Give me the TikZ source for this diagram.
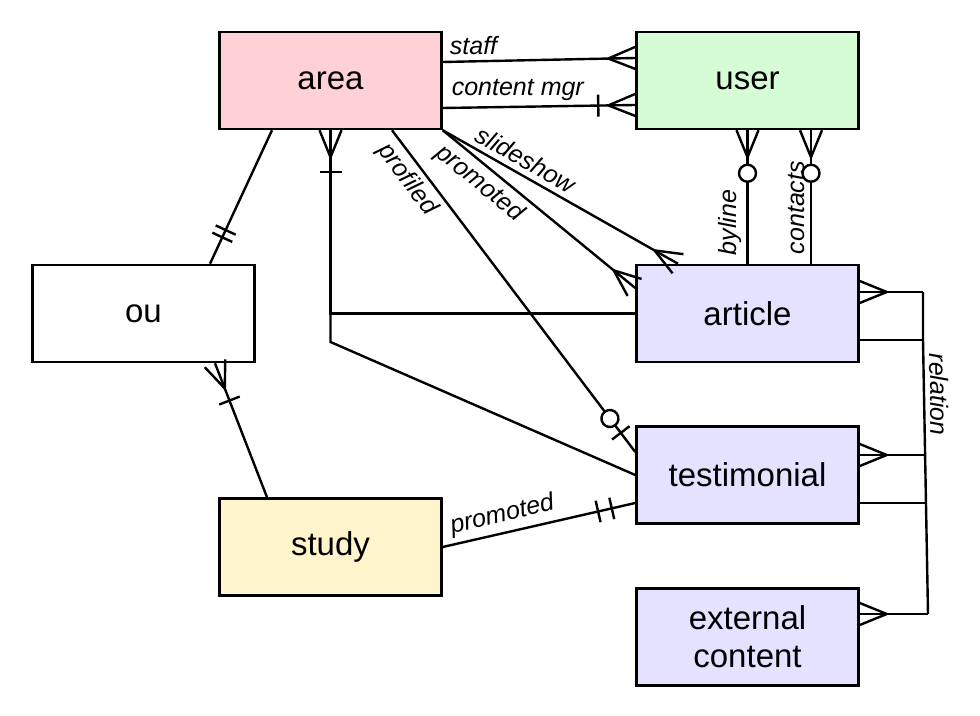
\documentclass[tikz,border=0pt]{standalone}
\usepackage{fontspec}
\setmainfont{Liberation Sans}
\usetikzlibrary{decorations.markings}

\definecolor{areapink}{RGB}{255,209,214}
\definecolor{usergreen}{RGB}{214,252,214}
\definecolor{contentblue}{RGB}{228,226,255}
\definecolor{studyyellow}{RGB}{255,244,204}

\tikzset{
  entity/.style={draw, line width=1.25pt, minimum width=111pt, minimum height=48.5pt,
    inner sep=0pt, align=center, font=\fontsize{16.5}{19}\selectfont},
  rel/.style={line width=1.2pt},
  lbl/.style={font=\itshape\fontsize{12.5}{14}\selectfont, inner sep=2.5pt},
  many end/.style={postaction={decorate,decoration={markings,mark=at position 1 with
    {\draw[line width=1.2pt] (-13.5pt,0) -- (0,5.5pt) (-13.5pt,0) -- (0,-5.5pt);}}}},
  bar end/.style={postaction={decorate,decoration={markings,mark=at position 1 with
    {\draw[line width=1.2pt] (-#1,-5.5pt) -- (-#1,5.5pt);}}}},
  zero end/.style={postaction={decorate,decoration={markings,mark=at position 1 with
    {\draw[line width=1.2pt,fill=white] (-#1,0) circle (4.25pt);}}}},
}

\begin{document}
\begin{tikzpicture}[x=0.5pt, y=-0.5pt]
\useasboundingbox (0,0) rectangle (980,716);

% entities
\node[entity, fill=areapink] (area) at (330.5,80.5) {area};
\node[entity, fill=usergreen] (user) at (747.5,80.5) {user};
\node[entity] (ou) at (143.5,313.5) {ou};
\node[entity, fill=contentblue] (article) at (747.5,313.5) {article};
\node[entity, fill=contentblue] (testimonial) at (747.5,475) {testimonial};
\node[entity, fill=studyyellow] (study) at (330.5,547) {study};
\node[entity, fill=contentblue] (external) at (747.5,637) {external\\content};

% area -- user
\draw[rel, many end] (area.east |- 0,62) -- node[lbl, pos=0.16, above] {staff} (user.west |- 0,58);
\draw[rel, many end, bar end=18.5pt] (area.east |- 0,108) -- node[lbl, pos=0.39, above] {content mgr} (user.west |- 0,105);

% area -- content
\draw[rel, many end] (area.south east) -- node[lbl, sloped, pos=0.32, above] {slideshow} (article.north -| 678,0);
\draw[rel, many end] (area.south east) -- node[lbl, sloped, pos=0.25, below] {promoted} (article.west |- 0,288);
\draw[rel, zero end=21pt, bar end=12pt] (area.south -| 392,0) -- node[lbl, sloped, pos=0.12, below] {profiled} (testimonial.west |- 0,452);
\draw[rel] (testimonial.west) -- (area.south |- 0,342) -- (area.south);
\draw[rel, many end, bar end=21pt] (article.west) -- (area.south |- article.west) -- (area.south);

% ou
\draw[rel, bar end=14.5pt, bar end=18.5pt] (area.south -| 272,0) -- (ou.north -| 210,0);
\draw[rel, many end, bar end=20pt] (study.north -| 267,0) -- (ou.south -| 215,0);

% study -- testimonial
\draw[rel, bar end=12pt, bar end=19pt] (study.east) -- node[lbl, sloped, pos=0.33, above] {promoted} (testimonial.west |- 0,503);

% user -- article
\draw[rel, many end, zero end=21.5pt] (article.north) -- node[lbl, sloped, pos=0.31, above] {byline} (user.south);
\draw[rel, many end, zero end=21.5pt] (article.north -| 811,0) -- node[lbl, sloped, pos=0.42, above] {contacts} (user.south -| 811,0);

% relation
\coordinate (r1) at (923,292);
\coordinate (r2) at (923,340);
\coordinate (r3) at (925,455);
\coordinate (r4) at (925.5,503);
\coordinate (r5) at (928,614);
\draw[rel] (r1) -- (r2) -- node[lbl, sloped, pos=0.2, above] {relation} (r5);
\draw[rel, many end] (r1) -- (article.east |- r1);
\draw[rel] (r2) -- (article.east |- r2);
\draw[rel, many end] (r3) -- (testimonial.east |- r3);
\draw[rel] (r4) -- (testimonial.east |- r4);
\draw[rel, many end] (r5) -- (external.east |- r5);

\end{tikzpicture}
\end{document}
